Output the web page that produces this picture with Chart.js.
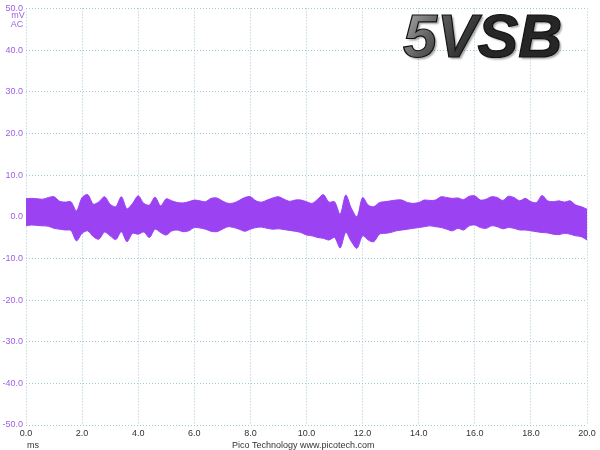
<!DOCTYPE html>
<html>
<head>
<meta charset="utf-8">
<script src="https://cdn.jsdelivr.net/npm/chart.js@4.4.1/dist/chart.umd.min.js"></script>
<style>
    html, body { margin: 0; padding: 0; background: #fff; }
    #wrap { width: 600px; height: 450px; position: relative; }
</style>
</head>
<body>
<div id="wrap"><canvas id="scopeChart" width="600" height="450"></canvas></div>
<script>
const upperMv = [
    4.3, 4.4, 4.3, 4.2, 4.6, 4.8,
    3.7, 3.5, 3.6, 1.4, 4.6,
    5.3, 3.0, 3.6, 4.8, 3.0,
    2.4, 4.8, 1.9, 3.2, 5.0,
    3.2, 2.8, 4.7, 2.6, 4.3,
    3.8, 3.4, 3.3, 3.6, 4.0,
    3.8, 3.6, 4.4, 4.5, 3.8,
    3.2, 3.3, 3.9, 4.6, 4.8,
    3.8, 3.5, 4.0, 4.5, 4.8,
    4.2, 3.7, 4.0, 4.0, 3.6,
    3.2, 4.2, 5.3, 3.5, 3.6,
    0.6, 5.2, 2.0, 0.0, 4.6,
    2.8, 2.4, 3.4, 3.6, 3.8,
    4.0, 4.0, 3.4, 3.2, 3.4,
    4.0, 3.9, 4.0, 4.8, 4.6,
    4.4, 4.5, 4.1, 4.9, 5.0,
    4.0, 4.2, 4.8, 4.6, 3.9,
    4.9, 4.6, 3.8, 4.4, 3.6,
    3.4, 5.1, 3.8, 3.6, 3.8,
    3.5, 3.8, 2.8, 2.4, 1.8
];
const lowerMv = [
    -2.2, -2.0, -2.1, -2.2, -2.3, -2.8,
    -3.0, -3.2, -3.3, -5.8, -4.0,
    -3.4, -4.8, -5.4, -3.7, -4.6,
    -5.5, -3.6, -6.0, -4.0, -4.2,
    -3.7, -5.0, -3.0, -3.8, -4.4,
    -3.4, -3.2, -3.6, -3.4, -2.6,
    -2.7, -3.0, -3.5, -3.6, -3.0,
    -2.4, -2.6, -3.0, -3.5, -3.0,
    -2.6, -2.5, -2.8, -3.0, -2.9,
    -3.1, -3.3, -3.5, -3.8, -4.4,
    -4.6, -5.0, -5.2, -5.6, -5.0,
    -7.5, -3.8, -6.0, -7.6, -4.6,
    -5.6, -6.0, -4.2, -4.0, -3.8,
    -3.4, -3.2, -3.0, -2.8, -2.6,
    -2.4, -2.2, -2.4, -2.6, -3.0,
    -3.4, -2.8, -3.2, -2.2, -2.0,
    -2.6, -2.8, -2.2, -2.4, -2.9,
    -2.6, -2.8, -3.2, -3.2, -3.4,
    -3.6, -3.8, -3.9, -4.2, -4.3,
    -4.0, -4.2, -4.6, -4.8, -5.6
];
const sampleStepMs = 0.2;
const timeMs = upperMv.map((_, i) => +(i * sampleStepMs).toFixed(1));

const xTicksMs = [0, 2, 4, 6, 8, 10, 12, 14, 16, 18, 20];
const yTicksMv = [-50, -40, -30, -20, -10, 0, 10, 20, 30, 40, 50];

const traceColor = '#9b42f2';
const labelPurple = '#9c5fe8';
const gridColor = '#9fcbd4';

const scopeText = {
    id: 'scopeText',
    afterDraw(chart) {
        const ctx = chart.ctx;
        ctx.save();

        // units under the top y label
        ctx.fillStyle = labelPurple;
        ctx.font = '9px "Liberation Sans", Arial, sans-serif';
        ctx.textAlign = 'center';
        ctx.textBaseline = 'middle';
        ctx.fillText('mV', 18, 16);
        ctx.fillText('AC', 17, 25);

        // footer
        ctx.fillStyle = '#333';
        ctx.textAlign = 'left';
        ctx.fillText('ms', 27, 446);
        ctx.fillText('Pico Technology', 232, 446);
        ctx.fillText('www.picotech.com', 300, 446);

        // big channel name
        ctx.font = 'italic bold 61px "Liberation Sans", Arial, sans-serif';
        ctx.textBaseline = 'alphabetic';
        const grad = ctx.createLinearGradient(405, 13, 470, 57);
        grad.addColorStop(0, '#a8a8a8');
        grad.addColorStop(0.45, '#5a5a5a');
        grad.addColorStop(1, '#262626');
        ctx.shadowColor = 'rgba(0,0,0,0.35)';
        ctx.shadowOffsetX = 2;
        ctx.shadowOffsetY = 2;
        ctx.shadowBlur = 2;
        ctx.fillStyle = grad;
        ctx.fillText('5VSB', 403, 57);
        ctx.shadowColor = 'transparent';
        ctx.lineWidth = 1.2;
        ctx.strokeStyle = '#111';
        ctx.strokeText('5VSB', 403, 57);

        ctx.restore();
    }
};

new Chart(document.getElementById('scopeChart'), {
    type: 'line',
    data: {
        datasets: [
            {
                label: 'max',
                data: timeMs.map((t, i) => ({ x: t, y: upperMv[i] })),
                borderColor: traceColor,
                backgroundColor: traceColor,
                borderWidth: 1,
                pointRadius: 0,
                tension: 0.3,
                fill: '+1'
            },
            {
                label: 'min',
                data: timeMs.map((t, i) => ({ x: t, y: lowerMv[i] })),
                borderColor: traceColor,
                backgroundColor: traceColor,
                borderWidth: 1,
                pointRadius: 0,
                tension: 0.3,
                fill: false
            }
        ]
    },
    options: {
        responsive: false,
        animation: false,
        layout: { padding: { top: 5, right: 13, left: 0, bottom: 0 } },
        plugins: {
            legend: { display: false },
            tooltip: { enabled: false }
        },
        scales: {
            x: {
                type: 'linear',
                min: 0,
                max: 20,
                afterFit: (scale) => { scale.height = 25; },
                afterBuildTicks: (scale) => { scale.ticks = xTicksMs.map(v => ({ value: v })); },
                grid: { color: gridColor, drawTicks: false, lineWidth: 1 },
                border: { display: false, dash: [1, 2] },
                ticks: {
                    padding: 3,
                    maxRotation: 0,
                    autoSkip: false,
                    color: '#333',
                    font: { family: '"Liberation Sans", Arial, sans-serif', size: 9 },
                    callback: (v) => v.toFixed(1)
                }
            },
            y: {
                type: 'linear',
                min: -50,
                max: 50,
                afterFit: (scale) => { scale.width = 26; },
                afterBuildTicks: (scale) => { scale.ticks = yTicksMv.map(v => ({ value: v })); },
                grid: { color: gridColor, drawTicks: false, lineWidth: 1 },
                border: { display: false, dash: [1, 2] },
                ticks: {
                    padding: 3,
                    autoSkip: false,
                    color: labelPurple,
                    font: { family: '"Liberation Sans", Arial, sans-serif', size: 9 },
                    callback: (v) => v.toFixed(1)
                }
            }
        }
    },
    plugins: [scopeText]
});
</script>
</body>
</html>
